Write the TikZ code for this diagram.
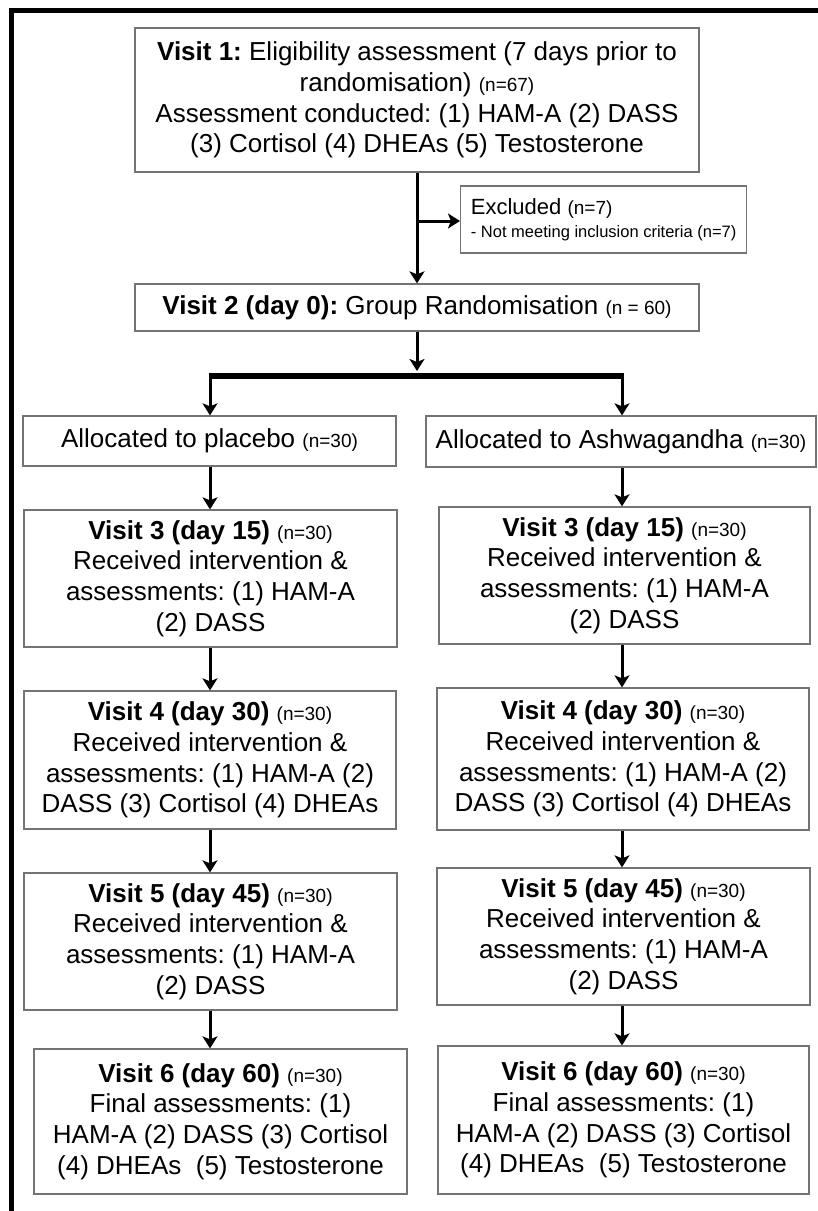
\documentclass[tikz,border=0pt]{standalone}
\usepackage{fontspec}
\setmainfont{Liberation Sans}
\usetikzlibrary{arrows.meta}
\frenchspacing
\newcommand\nsm[1]{{\fontsize{19}{22}\selectfont #1}}
\begin{document}
\frenchspacing
\begin{tikzpicture}[x=1pt,y=-1pt,
  box/.style={draw=black!55, line width=1.3pt, rectangle, inner sep=0pt, align=center,
    font=\fontsize{26}{30.8}\selectfont},
  arr/.style={line width=3pt, -{Stealth[length=12pt,width=15pt,inset=3pt]}},
  frame/.style={line width=5pt, black},
  split/.style={line width=6pt, black},
]
\useasboundingbox (0,0) rectangle (818,1211);
\fill[white] (0,0) rectangle (818,1211);
% outer frame (cropped at right and bottom)
\coordinate (fb) at (11.5,1211);
\coordinate (fc) at (11.5,10);
\coordinate (fr) at (818,10);
\draw[frame] (fb) -- (fc) -- (fr);

% top part
\node[box, minimum width=564pt, minimum height=144pt] (v1) at (417,100)
  {\textbf{Visit 1:} Eligibility assessment (7 days prior to\\
   randomisation) \nsm{(n=67)}\\
   Assessment conducted: (1) HAM-A (2) DASS\\
   (3) Cortisol (4) DHEAs (5) Testosterone};
\node[draw=black!55, line width=1.3pt, rectangle, inner xsep=10pt, inner ysep=0pt, anchor=west,
  minimum width=286pt, minimum height=67pt, align=left,
  font=\fontsize{22}{23}\selectfont] (ex) at (460,219.5)
  {Excluded \nsm{(n=7)}\\
   {\fontsize{16.5}{20}\selectfont - Not meeting inclusion criteria (n=7)}};
\node[box, minimum width=564pt, minimum height=47pt] (v2) at (417,307.5)
  {\textbf{Visit 2 (day 0):} Group Randomisation \nsm{(n = 60)}};

\coordinate (br) at (417,221);
\draw[arr] (v1.south) -- (v2.north);
\draw[arr] (br) -- (br -| ex.west);

% split
\coordinate (sp) at (417,371);
\coordinate (hl) at (210,375.5);
\coordinate (hr) at (622,375.5);
\draw[arr] (v2.south) -- (sp);
\draw[split] ([xshift=-1.5pt]hl) -- ([xshift=1.5pt]hr);

% allocation
\node[box, minimum width=373pt, minimum height=50pt] (pl) at (209.5,441)
  {Allocated to placebo \nsm{(n=30)}};
\node[box, minimum width=390pt, minimum height=51pt] (as) at (621,441.5)
  {Allocated to Ashwagandha \nsm{(n=30)}};
\draw[arr] ([yshift=-3pt]hl) -- (hl |- pl.north);
\draw[arr] ([yshift=-3pt]hr) -- (hr |- as.north);

% left column
\node[box, minimum width=373pt, minimum height=137pt] (l3) at (210.5,578.5)
  {\textbf{Visit 3 (day 15)} \nsm{(n=30)}\\
   Received intervention \&\\
   assessments: (1) HAM-A\\
   (2) DASS};
\node[box, minimum width=372pt, minimum height=138pt] (l4) at (210,760)
  {\textbf{Visit 4 (day 30)} \nsm{(n=30)}\\
   Received intervention \&\\
   assessments: (1) HAM-A (2)\\
   DASS (3) Cortisol (4) DHEAs};
\node[box, minimum width=373pt, minimum height=137pt] (l5) at (210.5,941.5)
  {\textbf{Visit 5 (day 45)} \nsm{(n=30)}\\
   Received intervention \&\\
   assessments: (1) HAM-A\\
   (2) DASS};
\node[box, minimum width=373pt, minimum height=145pt] (l6) at (220.5,1121.5)
  {\textbf{Visit 6 (day 60)} \nsm{(n=30)}\\
   Final assessments: (1)\\
   HAM-A (2) DASS (3) Cortisol\\
   (4) DHEAs\ \ (5) Testosterone};

% right column
\node[box, minimum width=371pt, minimum height=137pt] (r3) at (624.5,575.5)
  {\textbf{Visit 3 (day 15)} \nsm{(n=30)}\\
   Received intervention \&\\
   assessments: (1) HAM-A\\
   (2) DASS};
\node[box, minimum width=372pt, minimum height=142pt] (r4) at (623,759)
  {\textbf{Visit 4 (day 30)} \nsm{(n=30)}\\
   Received intervention \&\\
   assessments: (1) HAM-A (2)\\
   DASS (3) Cortisol (4) DHEAs};
\node[box, minimum width=373pt, minimum height=137pt] (r5) at (623.5,936.5)
  {\textbf{Visit 5 (day 45)} \nsm{(n=30)}\\
   Received intervention \&\\
   assessments: (1) HAM-A\\
   (2) DASS};
\node[box, minimum width=371pt, minimum height=148pt] (r6) at (623.5,1120)
  {\textbf{Visit 6 (day 60)} \nsm{(n=30)}\\
   Final assessments: (1)\\
   HAM-A (2) DASS (3) Cortisol\\
   (4) DHEAs\ \ (5) Testosterone};

% connectors
\coordinate (lx) at (210,0);
\coordinate (rx) at (622,0);
\draw[arr] (lx |- pl.south) -- (lx |- l3.north);
\draw[arr] (lx |- l3.south) -- (lx |- l4.north);
\draw[arr] (lx |- l4.south) -- (lx |- l5.north);
\draw[arr] (lx |- l5.south) -- (lx |- l6.north);
\draw[arr] (rx |- as.south) -- (rx |- r3.north);
\draw[arr] (rx |- r3.south) -- (rx |- r4.north);
\draw[arr] (rx |- r4.south) -- (rx |- r5.north);
\draw[arr] (rx |- r5.south) -- (rx |- r6.north);
\end{tikzpicture}
\end{document}
